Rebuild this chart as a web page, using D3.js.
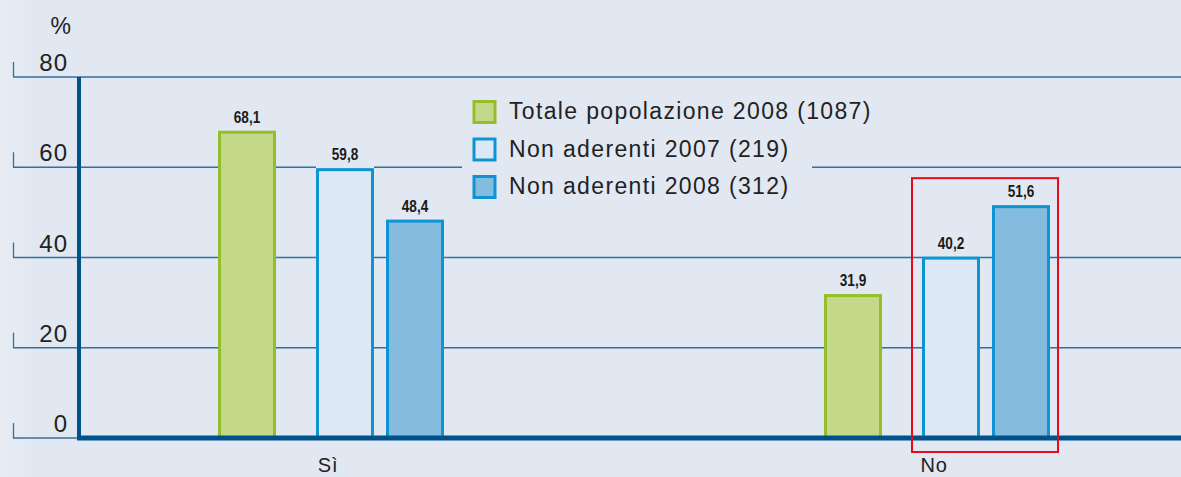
<!DOCTYPE html>
<html><head><meta charset="utf-8">
<script src="https://cdn.jsdelivr.net/npm/d3@7"></script>
<style>html,body{margin:0;padding:0;background:#e2e8f2;}svg{display:block;}</style>
</head><body>
<div id="chart"></div>
<script>
const categories = ["Sì", "No"];
const seriesNames = ["Totale popolazione 2008 (1087)", "Non aderenti 2007 (219)", "Non aderenti 2008 (312)"];
const totale2008 = [68.1, 31.9];
const nonAderenti2007 = [59.8, 40.2];
const nonAderenti2008 = [48.4, 51.6];
const yTicks = [0, 20, 40, 60, 80];
const valueLabels = [["68,1", "31,9"], ["59,8", "40,2"], ["48,4", "51,6"]];

const W = 1181, H = 477;
const FONT = "'Liberation Sans', Arial, Helvetica, sans-serif";
const TXT = "#222222";
const svg = d3.select("#chart").append("svg").attr("width", W).attr("height", H);
const defs = svg.append("defs");
const grad = defs.append("linearGradient").attr("id", "bg").attr("x1", 0).attr("x2", 1);
grad.append("stop").attr("offset", 0).attr("stop-color", "#e8edf4");
grad.append("stop").attr("offset", 0.03).attr("stop-color", "#e1e8f2");
grad.append("stop").attr("offset", 1).attr("stop-color", "#e1e8f2");
svg.append("rect").attr("width", W).attr("height", H).attr("fill", "url(#bg)");
const BG = "#e1e8f2";

const y = d3.scaleLinear().domain([0, 80]).range([438, 77]);
const x = d3.scalePoint().domain(categories).range([331, 937]);
const off = d3.scaleOrdinal().domain([0, 1, 2]).range([-113, -15, 55]);
const bw = 58;

const fills = ["#c4d88a", "#dce8f5", "#86bbe0"];
const strokes = ["#94bf2a", "#0d95d3", "#0d95d3"];
const series = [totale2008, nonAderenti2007, nonAderenti2008];

// gridlines + y ticks
const grid = svg.append("g");
yTicks.forEach(t => {
  grid.append("line").attr("x1", 13).attr("x2", W).attr("y1", y(t)).attr("y2", y(t))
    .attr("stroke", "#336fa2").attr("stroke-width", 1.3);
  grid.append("line").attr("x1", 13.5).attr("x2", 13.5).attr("y1", y(t) - 15).attr("y2", y(t))
    .attr("stroke", "#336fa2").attr("stroke-width", 1.3);
  grid.append("text").attr("x", 68).attr("y", y(t) - 6).attr("text-anchor", "end")
    .attr("font-family", FONT).attr("font-size", 24).attr("letter-spacing", 1)
    .attr("fill", TXT).text(t);
});
svg.append("text").attr("x", 71).attr("y", 34).attr("text-anchor", "end")
  .attr("font-family", FONT).attr("font-size", 23)
  .attr("fill", TXT).text("%");

// legend background box (covers gridline)
svg.append("rect").attr("x", 462).attr("y", 88).attr("width", 350).attr("height", 117).attr("fill", BG);

// bars
series.forEach((vals, si) => {
  const g = svg.append("g");
  vals.forEach((v, ci) => {
    const bx = x(categories[ci]) + off(si);
    g.append("rect").attr("x", bx).attr("y", y(v) - 24).attr("width", bw).attr("height", 24).attr("fill", BG);
    g.append("rect").attr("x", bx + 1.5).attr("y", y(v) + 1.5).attr("width", bw - 3).attr("height", y(0) - y(v) - 1.5)
      .attr("fill", fills[si]).attr("stroke", strokes[si]).attr("stroke-width", 3);
    const cx = bx + bw / 2;
    g.append("text").attr("transform", `translate(${cx},${y(v) - 8}) scale(0.8,1)`).attr("text-anchor", "middle")
      .attr("font-family", FONT)
      .attr("font-weight", "bold").attr("font-size", 17).attr("fill", "#1a1a1a").text(valueLabels[si][ci]);
  });
});

// axes
svg.append("line").attr("x1", 79).attr("x2", 79).attr("y1", y(80)).attr("y2", y(0) + 2)
  .attr("stroke", "#00528b").attr("stroke-width", 4);
svg.append("line").attr("x1", 77).attr("x2", W).attr("y1", y(0)).attr("y2", y(0))
  .attr("stroke", "#00528b").attr("stroke-width", 5);

// category labels
categories.forEach(c => {
  svg.append("text").attr("x", x(c) - 3).attr("y", 472).attr("text-anchor", "middle")
    .attr("font-family", FONT).attr("font-size", 20).attr("letter-spacing", 0.8)
    .attr("fill", TXT).text(c);
});

// red highlight box around "No" non aderenti
const nx = x("No");
svg.append("rect").attr("x", nx + off(1) - 10).attr("y", y(nonAderenti2008[1]) - 27)
  .attr("width", (off(2) + bw + 8) - (off(1) - 10)).attr("height", y(0) + 14 - (y(nonAderenti2008[1]) - 27))
  .attr("fill", "none").attr("stroke", "#e30b1c").attr("stroke-width", 2);

// legend
const lg = svg.append("g");
seriesNames.forEach((n, i) => {
  const yy = 100 + i * 37.5;
  lg.append("rect").attr("x", 474).attr("y", yy + 1.5).attr("width", 21).attr("height", 21)
    .attr("fill", fills[i]).attr("stroke", strokes[i]).attr("stroke-width", 3);
  lg.append("text").attr("x", 509).attr("y", yy + 19).attr("font-family", FONT)
    .attr("font-size", 23).attr("letter-spacing", 1.35).attr("fill", TXT).text(n);
});
</script>
</body></html>
